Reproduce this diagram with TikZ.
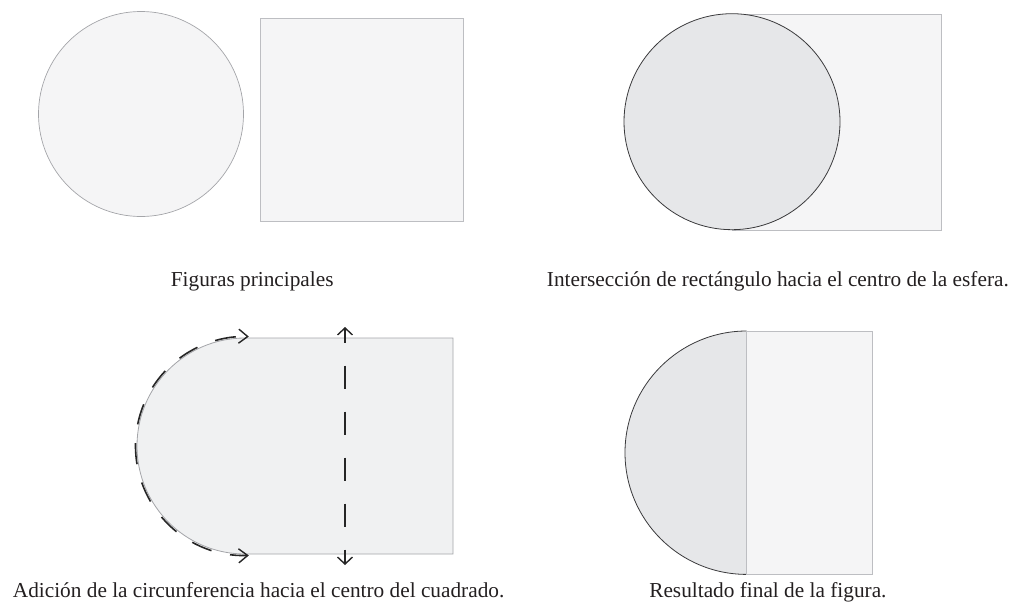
\documentclass[tikz,border=0pt]{standalone}
\usepackage{fontspec}
\setmainfont{Liberation Serif}
\usetikzlibrary{arrows.meta,calc}
\definecolor{lightfill}{HTML}{F5F5F6}
\definecolor{palefill}{HTML}{F0F1F2}
\definecolor{midfill}{HTML}{E6E7E9}
\definecolor{thinline}{HTML}{A4A5A9}
\definecolor{rectline}{HTML}{BDBEC2}
\definecolor{darkline}{HTML}{3A3A3C}
\definecolor{txt}{HTML}{231F20}
\begin{document}
\begin{tikzpicture}[x=1pt,y=-1pt,
  shapebox/.style={draw=rectline, fill=lightfill, line width=0.9pt, inner sep=0pt, outer sep=0pt},
  caption/.style={inner sep=0pt, text=txt, font=\fontsize{21.3}{25}\selectfont},
  movearrow/.style={draw=black!85, line width=1.8pt, {Straight Barb[length=7pt,width=15pt,line width=1.4pt]}-{Straight Barb[length=7pt,width=15pt,line width=1.4pt]}},
  arcarrow/.style={draw=black!85, line width=1.6pt, {Straight Barb[length=9pt,width=14pt,line width=1.4pt]}-{Straight Barb[length=9pt,width=14pt,line width=1.4pt]}}
]
\useasboundingbox (0,0) rectangle (1019,605);

% --- top left: main figures
\node[circle, draw=thinline, fill=lightfill, line width=0.7pt, minimum size=205pt, inner sep=0pt] (c1) at (141,114) {};
\node[shapebox, minimum width=203pt, minimum height=203pt] (s1) at (361.7,120) {};

% --- top right: intersection
\node[shapebox, minimum width=209pt, minimum height=216pt] (s2) at (836.5,122) {};
\node[circle, draw=darkline, fill=midfill, line width=0.8pt, minimum size=216pt, inner sep=0pt] (c2) at (732,121.7) {};

% --- bottom left: addition
\coordinate (blc) at (245,446);
\fill[palefill] (245,338) -- (453,338) -- (453,554) -- (245,554)
   arc[start angle=90, end angle=270, radius=108] -- cycle;
\draw[thinline, line width=0.8pt] (245,554) arc[start angle=90, end angle=270, radius=108]
   -- (453,338) -- (453,554) -- (245,554);
\coordinate (arcstart) at ($(blc)+(88:109.5)$);
\draw[arcarrow, dash pattern=on 21pt off 19pt, dash phase=4pt]
   (arcstart) arc[start angle=88, end angle=272, radius=109.5];
\coordinate (vtop) at (345,327);
\coordinate (vbot) at (345,565);
\draw[movearrow, dash pattern=on 23pt off 23pt, dash phase=9pt] (vtop) -- (vbot);

% --- bottom right: result
\fill[midfill] (746.7,331) arc[start angle=270, end angle=90, radius=121.7] -- cycle;
\draw[darkline, line width=0.8pt] (746.7,331) arc[start angle=270, end angle=90, radius=121.7];
\node[shapebox, minimum width=126pt, minimum height=243.3pt] (r4) at (809.7,452.7) {};

% --- captions
\node[caption, anchor=base west] (t1) at (170.7,286) {Figuras principales};
\node[caption, anchor=base east] (t2) at (1009,286) {Intersección de rectángulo hacia el centro de la esfera.};
\node[caption, anchor=base west] (t3) at (12.7,597.7) {Adición de la circunferencia hacia el centro del cuadrado.};
\node[caption, anchor=base east] (t4) at (886.7,597.5) {Resultado final de la figura.};
\end{tikzpicture}
\end{document}
